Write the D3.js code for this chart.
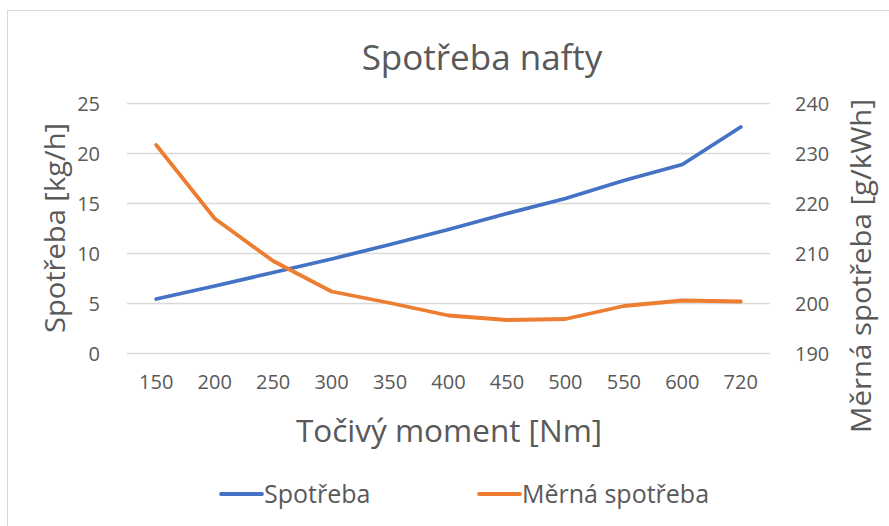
<!DOCTYPE html>
<html>
<head>
<meta charset="utf-8">
<script src="https://cdn.jsdelivr.net/npm/d3@7"></script>
<style>
  body { margin: 0; background: #fff; }
  text { font-family: "Open Sans", sans-serif; fill: #595959; }
</style>
</head>
<body>
<svg id="chart" width="889" height="526"></svg>
<script>
var categories = ['150', '200', '250', '300', '350', '400', '450', '500', '550', '600', '720'];
var spotreba = [5.4, 6.7, 8.05, 9.4, 10.85, 12.35, 13.95, 15.45, 17.25, 18.85, 22.6];
var mernaSpotreba = [231.6, 216.9, 208.4, 202.3, 200.0, 197.5, 196.6, 196.8, 199.4, 200.5, 200.3];
var leftTicks = [0, 5, 10, 15, 20, 25];
var rightTicks = [190, 200, 210, 220, 230, 240];

var svg = d3.select('#chart');
var plot = { left: 127, right: 770, top: 103, bottom: 353 };

// frame of the chart area
svg.append('rect')
  .attr('x', 7.5).attr('y', 10.5)
  .attr('width', 900).attr('height', 540)
  .attr('fill', 'none')
  .attr('stroke', '#d9d9d9');

var x = d3.scaleBand().domain(categories).range([plot.left, plot.right]);
var yLeft = d3.scaleLinear().domain([0, 25]).range([plot.bottom, plot.top]);
var yRight = d3.scaleLinear().domain([190, 240]).range([plot.bottom, plot.top]);

// gridlines
svg.append('g')
  .attr('transform', 'translate(' + plot.left + ',0)')
  .call(d3.axisLeft(yLeft).tickValues(leftTicks).tickSize(-(plot.right - plot.left)).tickFormat(''))
  .call(function(g) {
    g.select('.domain').remove();
    g.selectAll('line').attr('stroke', '#d9d9d9').attr('stroke-width', 1.3);
  });

// left axis labels
svg.append('g')
  .attr('transform', 'translate(' + (plot.left - 24) + ',0)')
  .call(d3.axisLeft(yLeft).tickValues(leftTicks).tickSize(0))
  .call(function(g) {
    g.select('.domain').remove();
    g.selectAll('text').style('font-size', '20px').attr('fill', '#595959').attr('dy', '0.35em');
  });

// right axis labels
svg.append('g')
  .attr('transform', 'translate(' + (plot.right + 22) + ',0)')
  .call(d3.axisRight(yRight).tickValues(rightTicks).tickSize(0))
  .call(function(g) {
    g.select('.domain').remove();
    g.selectAll('text').style('font-size', '20px').attr('fill', '#595959').attr('dy', '0.35em');
  });

// category axis labels
svg.append('g')
  .attr('transform', 'translate(0,' + (plot.bottom + 19) + ')')
  .call(d3.axisBottom(x).tickSize(0))
  .call(function(g) {
    g.select('.domain').remove();
    g.selectAll('text').style('font-size', '20px').attr('fill', '#595959');
  });

function lineFor(yScale) {
  return d3.line()
    .x(function(d, i) { return x(categories[i]) + x.bandwidth() / 2; })
    .y(function(d) { return yScale(d); });
}

svg.append('path')
  .datum(spotreba)
  .attr('d', lineFor(yLeft))
  .attr('fill', 'none')
  .attr('stroke', '#4472C4')
  .attr('stroke-width', 3.8)
  .attr('stroke-linejoin', 'round')
  .attr('stroke-linecap', 'round');

svg.append('path')
  .datum(mernaSpotreba)
  .attr('d', lineFor(yRight))
  .attr('fill', 'none')
  .attr('stroke', '#ED7D31')
  .attr('stroke-width', 3.8)
  .attr('stroke-linejoin', 'round')
  .attr('stroke-linecap', 'round');

// titles
svg.append('text')
  .attr('x', 482).attr('y', 70)
  .attr('text-anchor', 'middle')
  .style('font-size', '35px')
  .text('Spotřeba nafty');

svg.append('text')
  .attr('x', 449).attr('y', 442)
  .attr('text-anchor', 'middle')
  .style('font-size', '31.5px')
  .text('Točivý moment [Nm]');

svg.append('text')
  .attr('transform', 'translate(65,228) rotate(-90)')
  .attr('text-anchor', 'middle')
  .style('font-size', '28px')
  .attr('textLength', 210)
  .attr('lengthAdjust', 'spacingAndGlyphs')
  .text('Spotřeba [kg/h]');

svg.append('text')
  .attr('transform', 'translate(871,266) rotate(-90)')
  .attr('text-anchor', 'middle')
  .style('font-size', '28px')
  .attr('textLength', 334)
  .attr('lengthAdjust', 'spacingAndGlyphs')
  .text('Měrná spotřeba [g/kWh]');

// legend
var legendItems = [
  { name: 'Spotřeba', color: '#4472C4', x: 221 },
  { name: 'Měrná spotřeba', color: '#ED7D31', x: 479 }
];
var legend = svg.append('g').selectAll('g')
  .data(legendItems)
  .join('g')
  .attr('transform', function(d) { return 'translate(' + d.x + ',494)'; });
legend.append('line')
  .attr('x1', 0).attr('x2', 41)
  .attr('stroke', function(d) { return d.color; })
  .attr('stroke-width', 3.8)
  .attr('stroke-linecap', 'round');
legend.append('text')
  .attr('x', 43).attr('dy', '0.35em')
  .style('font-size', '25px')
  .text(function(d) { return d.name; });
</script>
</body>
</html>
